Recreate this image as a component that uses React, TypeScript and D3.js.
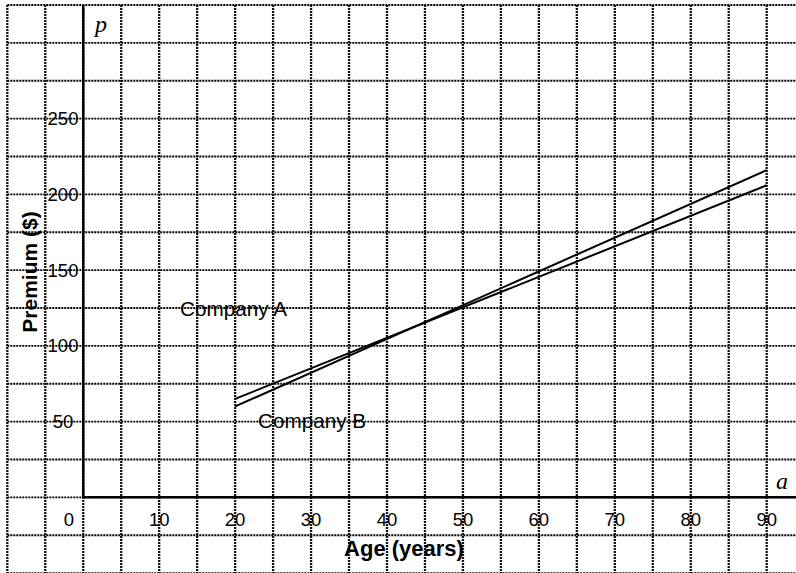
import React from "react";
import * as d3 from "d3";

const W = 796;
const H = 573;

const ages = [20, 90];
const companyA = [65, 206];
const companyB = [60, 216];
const xTicks = [0, 10, 20, 30, 40, 50, 60, 70, 80, 90];
const yTicks = [50, 100, 150, 200, 250];
const xGrid = d3.range(-10, 91, 5);
const yGrid = d3.range(-50, 326, 25);

export default function App() {
  const x = d3.scaleLinear().domain([-10, 90]).range([7.3, 766.7]);
  const y = d3.scaleLinear().domain([-50, 325]).range([573.1, 5]);
  const line = d3
    .line<[number, number]>()
    .x((d) => x(d[0]))
    .y((d) => y(d[1]));
  const sans = "'Liberation Sans', Arial, sans-serif";
  const serif = "'Liberation Serif', 'Times New Roman', serif";
  const ptsA: [number, number][] = ages.map((a, i) => [a, companyA[i]]);
  const ptsB: [number, number][] = ages.map((a, i) => [a, companyB[i]]);
  return (
    <svg
      width={W}
      height={H}
      style={{ position: "absolute", left: 0, top: 0, background: "#fff" }}
    >
      <rect width={W} height={H} fill="#fff" />
      {yGrid.map((v) => (
        <line
          key={"h" + v}
          x1={x(-10)}
          x2={W}
          y1={y(v)}
          y2={y(v)}
          stroke="#000"
          strokeWidth={1.9}
          strokeDasharray="2,1"
        />
      ))}
      {xGrid.map((v) => (
        <line
          key={"v" + v}
          x1={x(v)}
          x2={x(v)}
          y1={y(325)}
          y2={H}
          stroke="#111"
          strokeWidth={2.3}
          strokeDasharray="2,1"
        />
      ))}
      <line x1={x(0)} x2={x(0)} y1={y(325)} y2={y(0)} stroke="#000" strokeWidth={2.5} />
      <line x1={x(0)} x2={W} y1={y(0)} y2={y(0)} stroke="#000" strokeWidth={2.5} />
      <path d={line(ptsA) || ""} fill="none" stroke="#000" strokeWidth={2} />
      <path d={line(ptsB) || ""} fill="none" stroke="#000" strokeWidth={2} />
      {xTicks.map((v) => (
        <text
          key={"xt" + v}
          x={v === 0 ? 69 : x(v)}
          y={526}
          textAnchor="middle"
          fontFamily={sans}
          fontSize={18.5}
        >
          {v}
        </text>
      ))}
      {yTicks.map((v) => (
        <text
          key={"yt" + v}
          x={63}
          y={y(v) + 6.5}
          textAnchor="middle"
          fontFamily={sans}
          fontSize={18.5}
        >
          {v}
        </text>
      ))}
      <text
        x={404}
        y={556}
        textAnchor="middle"
        fontFamily={sans}
        fontSize={22}
        fontWeight="bold"
      >
        Age (years)
      </text>
      <text
        transform="translate(37,272) rotate(-90)"
        textAnchor="middle"
        fontFamily={sans}
        fontSize={21}
        fontWeight="bold"
      >
        Premium ($)
      </text>
      <text x={180} y={316} fontFamily={sans} fontSize={20.7}>
        Company A
      </text>
      <text x={258} y={428} fontFamily={sans} fontSize={20.7}>
        Company B
      </text>
      <text x={95} y={32} fontFamily={serif} fontStyle="italic" fontSize={24}>
        p
      </text>
      <text x={776} y={489} fontFamily={serif} fontStyle="italic" fontSize={24}>
        a
      </text>
    </svg>
  );
}
